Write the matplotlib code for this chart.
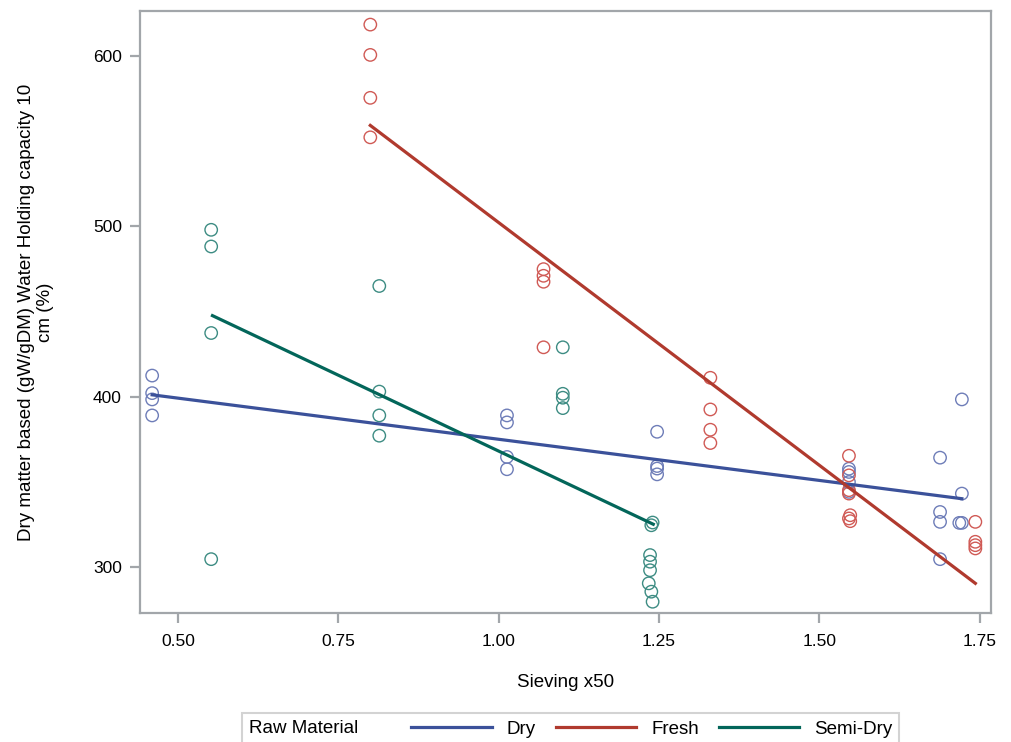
import matplotlib
matplotlib.use("Agg")
import matplotlib.pyplot as plt
from matplotlib.offsetbox import HPacker

plt.rcParams["font.family"] = ["Liberation Sans", "DejaVu Sans"]

# --- dados ---
dry_x = [0.46, 0.46, 0.46, 0.46,
         1.013, 1.013, 1.013, 1.013,
         1.247, 1.247, 1.247, 1.247,
         1.546, 1.546, 1.546, 1.546,
         1.688, 1.688, 1.688, 1.688,
         1.722, 1.722, 1.718, 1.722]
dry_y = [412.3, 402.0, 398.3, 388.9,
         388.9, 384.8, 364.5, 357.3,
         379.3, 359.2, 357.7, 354.3,
         357.6, 355.7, 349.8, 344.0,
         364.1, 332.2, 326.4, 304.5,
         398.3, 343.0, 325.8, 325.8]

fresh_x = [0.80, 0.80, 0.80, 0.80,
           1.07, 1.07, 1.07, 1.07,
           1.33, 1.33, 1.33, 1.33,
           1.546, 1.546, 1.546, 1.546, 1.548, 1.546, 1.548,
           1.743, 1.743, 1.743, 1.743]
fresh_y = [618.4, 600.6, 575.4, 552.2,
           474.8, 470.9, 467.4, 428.9,
           411.0, 392.4, 380.5, 372.7,
           365.2, 353.7, 345.0, 343.0, 330.3, 328.4, 326.8,
           326.4, 314.7, 312.7, 310.8]

semi_x = [0.552, 0.552, 0.552, 0.552,
          0.814, 0.814, 0.814, 0.814,
          1.10, 1.10, 1.10, 1.10,
          1.240, 1.238, 1.236, 1.236, 1.236, 1.234, 1.238, 1.240]
semi_y = [497.9, 488.1, 437.3, 304.5,
          464.9, 402.9, 388.9, 377.0,
          428.9, 401.6, 399.3, 393.2,
          326.0, 324.4, 306.9, 303.0, 298.0, 290.3, 285.4, 279.5]

# retas ajustadas (extremos)
dry_fit_x = [0.46, 1.722]
dry_fit_y = [401.0, 340.0]
fresh_fit_x = [0.80, 1.743]
fresh_fit_y = [559.2, 290.3]
semi_fit_x = [0.554, 1.241]
semi_fit_y = [447.5, 325.0]

groups = ["Dry", "Fresh", "Semi-Dry"]
line_colors = ["#3B519A", "#B03A2E", "#03665A"]
marker_colors = ["#6E7DB8", "#D05A55", "#3D8C83"]

fig = plt.figure(figsize=(10.12, 7.42), dpi=100)
ax = fig.add_axes([0.1383, 0.1739, 0.8407, 0.8113])

pts = [(dry_x, dry_y), (fresh_x, fresh_y), (semi_x, semi_y)]
fits = [(dry_fit_x, dry_fit_y), (fresh_fit_x, fresh_fit_y), (semi_fit_x, semi_fit_y)]

for (px, py), mc in zip(pts, marker_colors):
    ax.scatter(px, py, s=80, facecolors="none", edgecolors=mc, linewidths=1.0, zorder=2)

handles = []
for (fx, fy), lc, g in zip(fits, line_colors, groups):
    ln, = ax.plot(fx, fy, color=lc, linewidth=2.3, zorder=3, label=g)
    handles.append(ln)

ax.set_xlim(0.441, 1.767)
ax.set_ylim(272.9, 626.4)
ax.set_xticks([0.50, 0.75, 1.00, 1.25, 1.50, 1.75])
ax.set_xticklabels(["0.50", "0.75", "1.00", "1.25", "1.50", "1.75"])
ax.set_yticks([300, 400, 500, 600])

for sp in ax.spines.values():
    sp.set_color("#A2A6AA")
    sp.set_linewidth(1.6)
ax.tick_params(axis="both", length=7, width=1.6, color="#A2A6AA", labelsize=12.5)
ax.tick_params(axis="x", pad=8)
ax.tick_params(axis="y", pad=6)

ax.set_xlabel("Sieving x50", fontsize=13.5, labelpad=18)
ax.set_ylabel("Dry matter based (gW/gDM) Water Holding capacity 10\ncm (%)",
              fontsize=13.5, labelpad=28, linespacing=1.15)

leg = fig.legend(handles=handles, labels=groups, title="Raw Material", ncol=3,
                 loc="lower center", bbox_to_anchor=(0.564, -0.016),
                 fontsize=13.5, title_fontsize=13.5, handlelength=4.3, handletextpad=0.8,
                 columnspacing=1.05, frameon=True, fancybox=False, borderpad=0.4)
leg.get_frame().set_edgecolor("#C8C8C8")
leg.get_frame().set_linewidth(1.5)

# titulo da legenda ao lado das entradas
leg._legend_box = HPacker(pad=5, sep=38, align="center",
                          children=[leg._legend_title_box, leg._legend_handle_box])
leg._legend_box.set_figure(fig)
leg._legend_box.set_offset(leg._findoffset)

fig.savefig("out.png", dpi=100)
